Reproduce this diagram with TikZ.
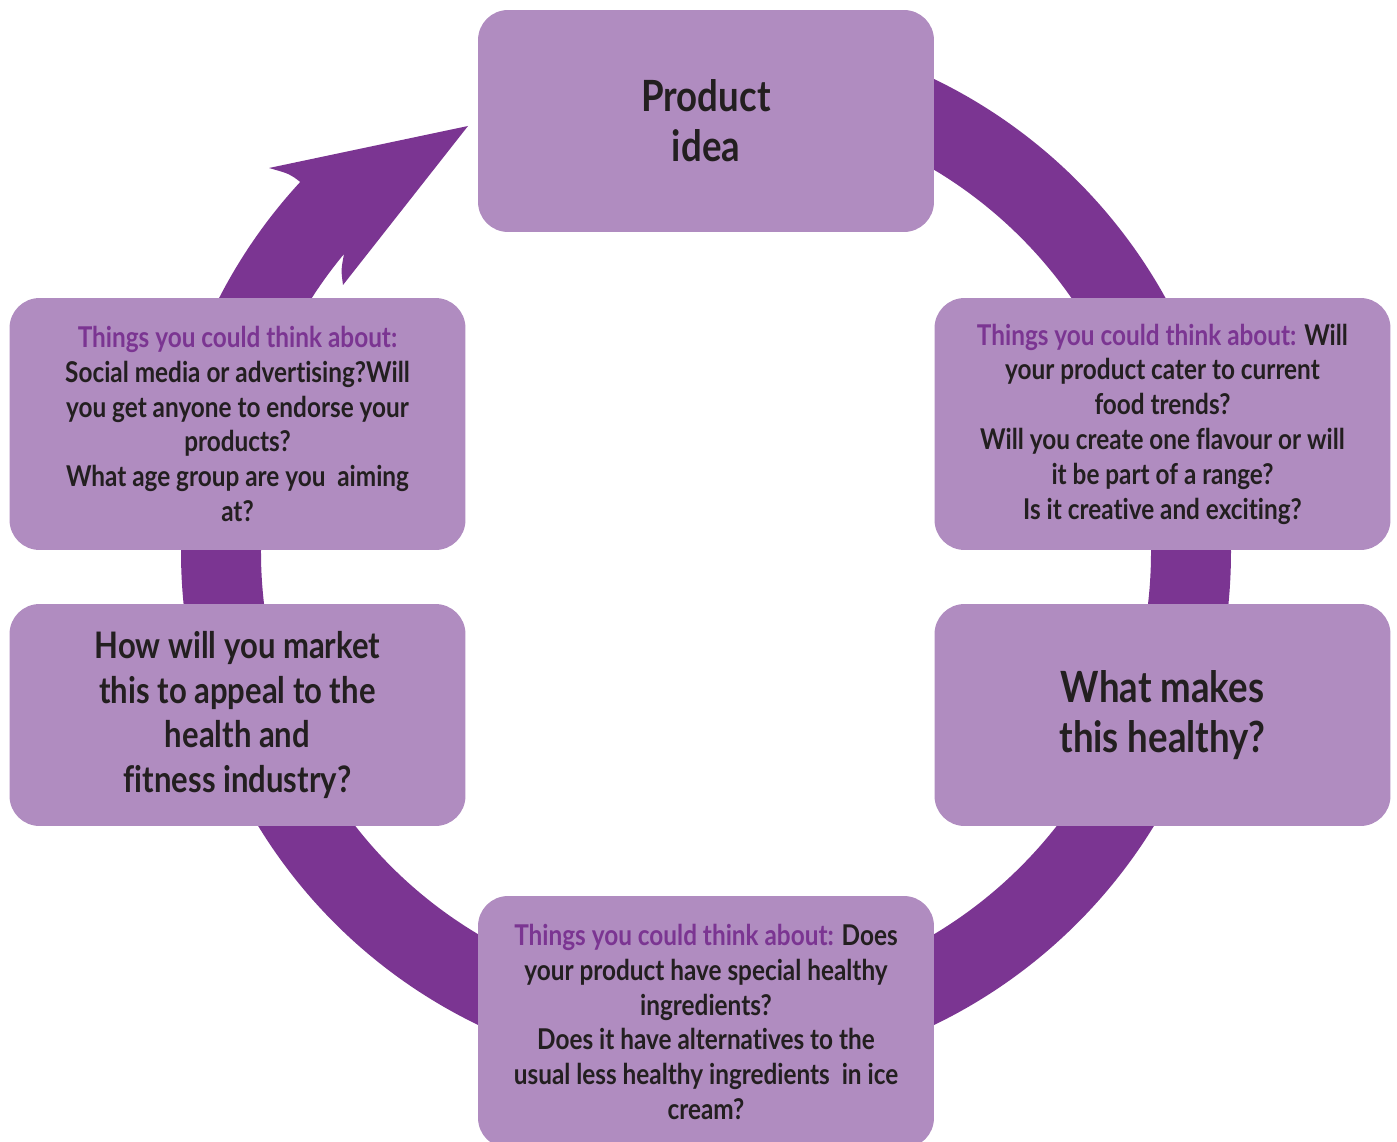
\documentclass[tikz,border=0pt]{standalone}
\usepackage{fontspec}
\setmainfont{Lato}[FakeStretch=0.85, Ligatures=NoCommon]
\definecolor{ringpurple}{HTML}{7B3592}
\definecolor{boxlilac}{HTML}{B08CC0}
\definecolor{inkblack}{HTML}{231F20}
\newcommand{\think}{{\color{ringpurple}Things you could think about:}}

\begin{document}
\begin{tikzpicture}[x=0.02cm, y=-0.02cm,
    stagebox/.style={fill=boxlilac, rounded corners=0.6cm, minimum width=9.12cm,
        inner sep=0pt, align=center, text=inkblack},
    smalltext/.style={font=\bfseries\fontsize{16.3}{19.8}\selectfont},
    bigtext/.style={font=\bfseries\fontsize{#1}{28.3}\selectfont}]
    \useasboundingbox (0,0) rectangle (1397,1142);

    \draw [ringpurple, line width=1.6cm] (706,552) ++(-90:485) arc[start angle=-90, end angle=190, radius=485];
    \fill [ringpurple] (686,538) ++(180:525) arc[start angle=180, end angle=222.7, radius=525]
        .. controls (290,174) .. (269,168) -- (468,126) -- (343,285)
        .. controls (341,270) .. (344,254)
        arc[start angle=219.7, end angle=180, radius=445] -- cycle;

    \node [stagebox, minimum height=4.44cm, bigtext=24.5] (idea) at (706,121) {Product\\idea\hspace*{0pt}};
    \node [stagebox, minimum height=5.04cm, smalltext] (trends) at (1162.5,424)
        {\think{} Will\\your product cater to current\\food trends?\\Will you create one flavour or will\\it be part of a range?\\Is it creative and exciting?};
    \node [stagebox, minimum height=4.44cm, bigtext=24.5] (healthy) at (1162.5,715) {What makes\\this healthy?};
    \node [stagebox, minimum height=5.04cm, smalltext] (ingredients) at (706,1022)
        {\think{} Does\\your product have special healthy\\ingredients?\\Does it have alternatives to the\\usual less healthy ingredients\ \ in ice\\cream?};
    \node [stagebox, minimum height=4.44cm, font=\bfseries\fontsize{20.8}{25.5}\selectfont] (market) at (237.5,715)
        {How will you market\\this to appeal to the\\health and\\fitness industry?};
    \node [stagebox, minimum height=5.04cm, smalltext] (social) at (237.5,424)
        {\think\\Social media or advertising?Will\\you get anyone to endorse your\\products?\\What age group are you\ \ aiming\\at?};
\end{tikzpicture}
\end{document}
